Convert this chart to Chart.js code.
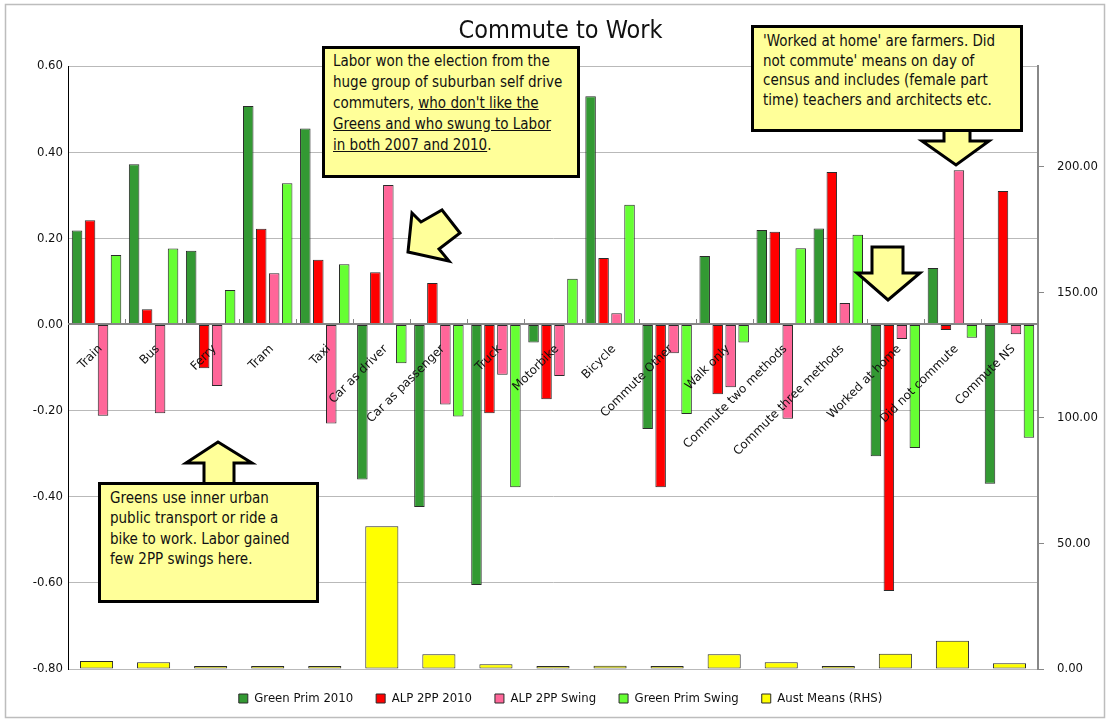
<!DOCTYPE html>
<html>
<head>
<meta charset="utf-8">
<script src="https://cdn.jsdelivr.net/npm/chart.js@4.4.0/dist/chart.umd.min.js"></script>
<style>
body { margin: 0; background: #fff; }
#wrap { position: relative; width: 1109px; height: 722px; }
#arrows { position: absolute; left: 0; top: 0; }
.note {
  position: absolute; box-sizing: border-box;
  background: #ffff99; border: 3px solid #000;
  font-family: "DejaVu Sans Condensed", "DejaVu Sans", sans-serif;
  font-size: 15px; color: #111; white-space: nowrap;
}
</style>
</head>
<body>
<div id="wrap">
  <canvas id="chart" width="1109" height="722"></canvas>
  <svg id="arrows" width="1109" height="722">
    <g fill="#ffff99" stroke="#000" stroke-width="3" stroke-linejoin="miter">
      <polygon points="408,252 412,213 421,222 442,210 460,233 439,249 449,261"/>
      <polygon points="944,128 970,128 970,141 989,141 956,165 922,141 944,141"/>
      <polygon points="872,247 903,247 903,273 920,273 888,300 857,273 872,273"/>
      <polygon points="218,442 252,463 234,463 234,484 204,484 204,463 186,463"/>
    </g>
  </svg>
  <div class="note" style="left:322px;top:46px;width:258px;height:132px;padding:2px 0 0 8px;line-height:21px;">
    Labor won the election from the<br>huge group of suburban self drive<br>commuters, <u>who don't like the</u><br><u>Greens and who swung to Labor</u><br><u>in both 2007 and 2010</u>.
  </div>
  <div class="note" style="left:751px;top:25px;width:272px;height:107px;padding:4px 0 0 9px;line-height:19.5px;">
    'Worked at home' are farmers. Did<br>not commute' means on day of<br>census and includes (female part<br>time) teachers and architects etc.
  </div>
  <div class="note" style="left:98px;top:482px;width:221px;height:121px;padding:3px 0 0 9px;line-height:20.3px;">
    Greens use inner urban<br>public transport or ride a<br>bike to work. Labor gained<br>few 2PP swings here.
  </div>
</div>
<script>
// categories
const categories = ['Train', 'Bus', 'Ferry', 'Tram', 'Taxi', 'Car as driver', 'Car as passenger',
  'Truck', 'Motorbike', 'Bicycle', 'Commute Other', 'Walk only', 'Commute two methods',
  'Commute three methods', 'Worked at home', 'Did not commute', 'Commute NS'];

// series values (left axis)
const greenPrim2010 = [0.218, 0.372, 0.171, 0.507, 0.455, -0.360, -0.424, -0.605, -0.042, 0.530,
  -0.243, 0.159, 0.219, 0.223, -0.306, 0.131, -0.370];
const alp2pp2010 = [0.242, 0.035, -0.102, 0.222, 0.150, 0.121, 0.096, -0.206, -0.174, 0.154,
  -0.378, -0.162, 0.215, 0.354, -0.619, -0.013, 0.310];
const alp2ppSwing = [-0.212, -0.206, -0.143, 0.119, -0.230, 0.324, -0.186, -0.117, -0.120, 0.026,
  -0.067, -0.146, -0.219, 0.050, -0.034, 0.358, -0.023];
const greenPrimSwing = [0.161, 0.176, 0.080, 0.328, 0.140, -0.090, -0.214, -0.378, 0.106, 0.278,
  -0.208, -0.042, 0.177, 0.208, -0.287, -0.031, -0.263];
// right axis
const austMeans = [3.2, 2.7, 0.2, 0.2, 0.2, 56.8, 5.9, 1.9, 0.9, 1.3, 0.9, 5.9, 2.7, 0.3, 6.1, 11.2, 2.3];

// tick labels
const leftTicks = [-0.8, -0.6, -0.4, -0.2, 0, 0.2, 0.4, 0.6];
const rightTicks = [0, 50, 100, 150, 200];

const FONT = '"DejaVu Sans Condensed", "DejaVu Sans", sans-serif';
const EDGE = '#2a2a2a';

//category labels sit on the zero line, like excel does it
const zeroAxis = {
  id: 'zeroAxis',
  beforeDraw(chart) {
    const ctx = chart.ctx;
    ctx.save();
    ctx.fillStyle = '#fff';
    ctx.fillRect(0, 0, chart.width, chart.height);
    ctx.strokeStyle = '#bdbdbd';
    ctx.lineWidth = 1.5;
    ctx.strokeRect(5.5, 4.5, 1099, 713);
    ctx.restore();
  },
  afterDatasetsDraw(chart) {
    const {ctx, chartArea, scales: {x, y}} = chart;
    const y0 = Math.round(y.getPixelForValue(0));
    ctx.save();
    ctx.strokeStyle = '#868686';
    ctx.lineWidth = 2;
    ctx.beginPath();
    ctx.moveTo(chartArea.left, y0);
    ctx.lineTo(chartArea.right, y0);
    ctx.stroke();
    ctx.lineWidth = 1;
    for (let i = 1; i < categories.length; i++) {
      const bx = Math.round((x.getPixelForValue(i - 1) + x.getPixelForValue(i)) / 2) + 0.5;
      ctx.beginPath();
      ctx.moveTo(bx, y0 - 5);
      ctx.lineTo(bx, y0);
      ctx.stroke();
    }
    ctx.font = '12px "DejaVu Sans", sans-serif';
    ctx.fillStyle = '#111';
    ctx.textAlign = 'right';
    ctx.textBaseline = 'middle';
    categories.forEach((c, i) => {
      const cx = x.getPixelForValue(i);
      ctx.save();
      ctx.translate(cx + 4, y0 + 23);
      ctx.rotate(-Math.PI / 4);
      ctx.fillText(c, 0, 0);
      ctx.restore();
    });
    ctx.restore();
  }
};

function barSet(label, data, color) {
  return {
    label: label,
    data: data,
    backgroundColor: color,
    borderColor: EDGE,
    borderWidth: 1,
    borderSkipped: false,
    yAxisID: 'y',
    categoryPercentage: 0.91,
    barPercentage: 0.81
  };
}

new Chart(document.getElementById('chart'), {
  type: 'bar',
  data: {
    labels: categories,
    datasets: [
      barSet('Green Prim 2010', greenPrim2010, '#339933'),
      barSet('ALP 2PP 2010', alp2pp2010, '#ff0000'),
      barSet('ALP 2PP Swing', alp2ppSwing, '#ff6699'),
      barSet('Green Prim Swing', greenPrimSwing, '#66ff33'),
      {
        label: 'Aust Means (RHS)',
        data: austMeans,
        backgroundColor: '#ffff00',
        borderColor: EDGE,
        borderWidth: 1,
        borderSkipped: false,
        minBarLength: 3,
        yAxisID: 'y1',
        grouped: false,
        categoryPercentage: 1,
        barPercentage: 0.58
      }
    ]
  },
  options: {
    responsive: false,
    animation: false,
    layout: { padding: { left: 18, right: 6, top: 0, bottom: 7 } },
    plugins: {
      title: {
        display: true,
        text: 'Commute to Work',
        color: '#111',
        font: { family: FONT, size: 25, weight: 'normal' },
        padding: { top: 16, bottom: 20 }
      },
      legend: {
        position: 'bottom',
        labels: {
          color: '#111',
          font: { family: FONT, size: 13 },
          boxWidth: 9,
          boxHeight: 9,
          padding: 23
        }
      },
      tooltip: { enabled: false }
    },
    scales: {
      x: {
        display: false
      },
      y: {
        position: 'left',
        min: -0.8,
        max: 0.6,
        afterFit: (s) => { s.width = 50; },
        afterBuildTicks: (s) => { s.ticks = leftTicks.map(v => ({ value: v })); },
        border: { color: '#000', width: 1 },
        grid: { color: '#b9b9b9', drawTicks: false, tickLength: 0 },
        ticks: {
          color: '#111',
          padding: 5,
          font: { family: FONT, size: 13 },
          callback: (v) => Number(v).toFixed(2)
        }
      },
      y1: {
        position: 'right',
        min: 0,
        max: 240,
        afterFit: (s) => { s.width = 65; },
        afterBuildTicks: (s) => { s.ticks = rightTicks.map(v => ({ value: v })); },
        border: { color: '#888', width: 2 },
        grid: { drawOnChartArea: false, color: '#888', tickLength: 6 },
        ticks: {
          color: '#111',
          padding: 13,
          font: { family: FONT, size: 13 },
          callback: (v) => Number(v).toFixed(2)
        }
      }
    }
  },
  plugins: [zeroAxis]
});
</script>
</body>
</html>
